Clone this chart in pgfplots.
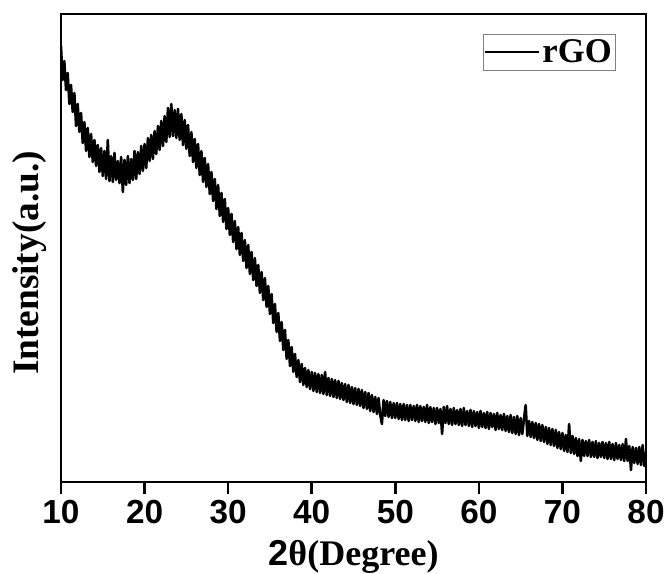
\documentclass[border=0pt]{standalone}
\usepackage{fontspec}
\setmainfont{Liberation Serif}
\setsansfont{Liberation Sans}
\usepackage{pgfplots}
\usepackage{pgfplotstable}
\usetikzlibrary{calc}
\pgfplotsset{compat=1.18}

% XRD pattern of rGO, intensity in arbitrary units
\pgfplotstableread{
x y
10.0 436
10.2 402
10.4 421
10.6 392
10.8 409
11.0 378
11.2 397
11.4 370
11.6 389
11.8 356
12.0 378
12.2 350
12.4 369
12.6 339
12.8 360
13.0 331
13.2 354
13.4 325
13.6 348
13.8 320
14.0 342
14.2 316
14.4 337
14.6 310
14.8 334
15.0 306
15.2 331
15.4 303
15.6 342
15.8 301
16.0 326
16.2 300
16.4 329
16.6 302
16.8 321
17.0 299
17.2 325
17.4 290
17.6 322
17.8 297
18.0 326
18.2 299
18.4 323
18.6 302
18.8 331
19.0 303
19.2 330
19.4 308
19.6 336
19.8 311
20.0 338
20.2 314
20.4 344
20.6 321
20.8 347
21.0 323
21.2 351
21.4 328
21.6 356
21.8 332
22.0 361
22.2 336
22.4 366
22.6 340
22.8 374
23.0 345
23.2 378
23.4 346
23.6 372
23.8 344
24.0 373
24.2 342
24.4 368
24.6 337
24.8 362
25.0 333
25.2 357
25.4 326
25.6 350
25.8 320
26.0 343
26.2 314
26.4 338
26.6 307
26.8 331
27.0 300
27.2 324
27.4 295
27.6 318
27.8 288
28.0 310
28.2 281
28.4 303
28.6 273
28.8 297
29.0 266
29.2 289
29.4 260
29.6 283
29.8 253
30.0 274
30.2 247
30.4 268
30.6 240
30.8 261
31.0 233
31.2 255
31.4 227
31.6 249
31.8 221
32.0 242
32.2 214
32.4 237
32.6 208
32.8 230
33.0 202
33.2 224
33.4 196
33.6 217
33.8 189
34.0 210
34.2 182
34.4 204
34.6 175
34.8 196
35.0 168
35.2 188
35.4 159
35.6 178
35.8 150
36.0 169
36.2 141
36.4 160
36.6 132
36.8 152
37.0 123
37.2 142
37.4 116
37.6 135
37.8 110
38.0 128
38.2 105
38.4 122
38.6 100
38.8 118
39.0 97
39.2 114
39.4 95
39.6 112
39.8 93
40.0 110
40.2 91
40.4 109
40.6 90
40.8 108
41.0 89
41.2 107
41.4 88
41.6 110
41.8 87
42.0 104
42.2 86
42.4 103
42.6 85
42.8 102
43.0 84
43.2 101
43.4 83
43.6 99
43.8 82
44.0 98
44.2 80
44.4 97
44.6 79
44.8 95
45.0 78
45.2 94
45.4 77
45.6 93
45.8 76
46.0 92
46.2 74
46.4 90
46.6 73
46.8 89
47.0 71
47.2 87
47.4 70
47.6 85
47.8 68
48.0 84
48.2 67
48.4 58
48.6 82
48.8 66
49.0 81
49.2 65
49.4 80
49.6 64
49.8 79
50.0 64
50.2 79
50.4 63
50.6 78
50.8 62
51.0 78
51.2 62
51.4 77
51.6 61
51.8 77
52.0 62
52.2 76
52.4 61
52.6 77
52.8 60
53.0 76
53.2 61
53.4 75
53.6 60
53.8 77
54.0 59
54.2 75
54.4 60
54.6 74
54.8 58
55.0 74
55.2 59
55.4 73
55.6 48
55.8 75
56.0 59
56.2 76
56.4 58
56.6 73
56.8 57
57.0 74
57.2 58
57.4 72
57.6 57
57.8 73
58.0 56
58.2 74
58.4 57
58.6 71
58.8 56
59.0 72
59.2 55
59.4 71
59.6 56
59.8 70
60.0 54
60.2 71
60.4 55
60.6 69
60.8 54
61.0 70
61.2 53
61.4 69
61.6 55
61.8 68
62.0 52
62.2 69
62.4 53
62.6 67
62.8 52
63.0 68
63.2 51
63.4 66
63.6 50
63.8 67
64.0 49
64.2 65
64.4 48
64.6 66
64.8 47
65.0 64
65.2 48
65.4 63
65.6 77
65.8 46
66.0 61
66.2 45
66.4 60
66.6 44
66.8 59
67.0 42
67.2 58
67.4 41
67.6 57
67.8 40
68.0 55
68.2 38
68.4 54
68.6 37
68.8 53
69.0 36
69.2 52
69.4 34
69.6 50
69.8 33
70.0 49
70.2 31
70.4 47
70.6 30
70.8 58
71.0 29
71.2 46
71.4 28
71.6 44
71.8 26
72.0 43
72.2 21
72.4 42
72.6 26
72.8 41
73.0 26
73.2 42
73.4 25
73.6 40
73.8 25
74.0 41
74.2 24
74.4 39
74.6 25
74.8 40
75.0 24
75.2 39
75.4 23
75.6 40
75.8 23
76.0 38
76.2 22
76.4 39
76.6 23
76.8 37
77.0 22
77.2 38
77.4 21
77.6 43
77.8 21
78.0 36
78.2 12
78.4 35
78.6 19
78.8 34
79.0 18
79.2 35
79.4 17
79.6 37
79.8 16
80.0 30
}\rgo

\begin{document}
\begin{tikzpicture}
\begin{axis}[
  scale only axis,
  width=438.75pt,
  height=351pt,
  xmin=10, xmax=80,
  ymin=0, ymax=468,
  xtick={10,20,...,80},
  ytick=\empty,
  xtick pos=bottom,
  tick align=outside,
  major tick length=9pt,
  every tick/.style={line width=2pt, black},
  axis line style={line width=2.2pt},
  /pgf/number format/assume math mode=true,
  tick label style={font=\sffamily\bfseries\fontsize{25}{27}\selectfont},
  xticklabel style={yshift=-1pt},
  xlabel={{\sffamily 2}θ(Degree)},
  ylabel={Intensity(a.u.)},
  xlabel style={font=\bfseries\fontsize{27}{29}\selectfont, at={(axis description cs:0.50,-0.159)}, anchor=center},
  ylabel style={font=\bfseries\fontsize{28}{30}\selectfont, at={(axis description cs:-0.053,0.468)}, anchor=center},
  legend style={at={(axis description cs:0.949,0.957)}, anchor=north east,
    draw=gray, line width=0.6pt, inner xsep=1pt, inner ysep=2pt,
    font=\bfseries\fontsize{26}{28}\selectfont},
  legend cell align=left,
  legend image code/.code={\draw[line width=1.6pt] (0cm,0cm) -- (40pt,0cm);},
]
\addplot[black, line width=1.9pt, line join=round] table[x=x, y=y] {\rgo};
\legend{rGO}
\end{axis}
\pgfresetboundingbox
\path[use as bounding box] ($(current axis.south west)+(-45.75pt,-69pt)$) rectangle ($(current axis.north east)+(15.75pt,10.5pt)$);
\end{tikzpicture}
\end{document}
